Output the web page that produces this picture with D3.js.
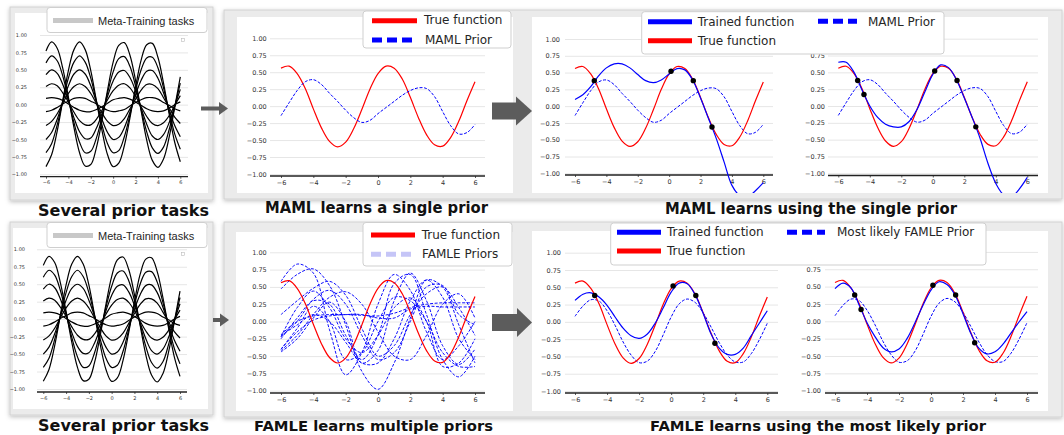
<!DOCTYPE html>
<html><head><meta charset="utf-8">
<script src="https://cdn.jsdelivr.net/npm/d3@7"></script>
<style>body{margin:0;background:#fff;}svg{display:block;}</style>
</head><body>
<svg id="c" width="1064" height="435"></svg>
<script>
// ---------------- DATA ----------------
const xFine = [-6,-5.5,-5,-4.5,-4,-3.5,-3,-2.5,-2,-1.5,-1,-0.5,0,0.5,1,1.5,2,2.5,3,3.5,4,4.5,5,5.5,6];
const xCoarse = [-6,-5,-4,-3,-2,-1,0,1,2,3,4,5,6];

const yTickValues = [-1,-0.75,-0.5,-0.25,0,0.25,0.5,0.75,1];
const yTickLabels = ["−1.00","−0.75","−0.50","−0.25","0.00","0.25","0.50","0.75","1.00"];
const xTickValues = [-6,-4,-2,0,2,4,6];
const xTickLabels = ["−6","−4","−2","0","2","4","6"];

// meta-training sine tasks
const task1 = [0.77,0.90,0.81,0.52,0.11,-0.33,-0.69,-0.88,-0.86,-0.62,-0.23,0.21,0.61,0.85,0.89,0.71,0.35,-0.09,-0.51,-0.80,-0.90,-0.78,-0.47,-0.04,0.40];
const task2 = [0.60,0.70,0.63,0.41,0.08,-0.26,-0.54,-0.69,-0.67,-0.48,-0.18,0.17,0.47,0.66,0.69,0.55,0.27,-0.07,-0.39,-0.62,-0.70,-0.61,-0.36,-0.03,0.31];
const task3 = [0.43,0.50,0.45,0.29,0.06,-0.19,-0.39,-0.49,-0.48,-0.34,-0.13,0.12,0.34,0.47,0.49,0.39,0.20,-0.05,-0.28,-0.45,-0.50,-0.43,-0.26,-0.02,0.22];
const task4 = [0.26,0.30,0.27,0.17,0.04,-0.11,-0.23,-0.29,-0.29,-0.21,-0.08,0.07,0.20,0.28,0.30,0.24,0.12,-0.03,-0.17,-0.27,-0.30,-0.26,-0.16,-0.01,0.13];
const task5 = [0.09,0.10,0.09,0.06,0.01,-0.04,-0.08,-0.10,-0.10,-0.07,-0.03,0.02,0.07,0.09,0.10,0.08,0.04,-0.01,-0.06,-0.09,-0.10,-0.09,-0.05,0.00,0.04];
const task6 = [-0.89,-0.72,-0.38,0.06,0.49,0.79,0.90,0.79,0.49,0.06,-0.37,-0.72,-0.89,-0.84,-0.59,-0.19,0.25,0.64,0.86,0.88,0.68,0.31,-0.13,-0.54,-0.82];
const task7 = [-0.69,-0.56,-0.29,0.05,0.38,0.61,0.70,0.61,0.38,0.05,-0.29,-0.56,-0.69,-0.66,-0.46,-0.15,0.20,0.50,0.67,0.68,0.53,0.24,-0.10,-0.42,-0.64];
const task8 = [-0.50,-0.40,-0.21,0.04,0.27,0.44,0.50,0.44,0.27,0.04,-0.21,-0.40,-0.50,-0.47,-0.33,-0.11,0.14,0.35,0.48,0.49,0.38,0.17,-0.07,-0.30,-0.46];
const task9 = [-0.30,-0.24,-0.13,0.02,0.16,0.26,0.30,0.26,0.16,0.02,-0.12,-0.24,-0.30,-0.28,-0.20,-0.06,0.08,0.21,0.29,0.29,0.23,0.10,-0.04,-0.18,-0.27];
const task10 = [-0.10,-0.08,-0.04,0.01,0.05,0.09,0.10,0.09,0.05,0.01,-0.04,-0.08,-0.10,-0.09,-0.07,-0.02,0.03,0.07,0.10,0.10,0.08,0.03,-0.01,-0.06,-0.09];

const trueFunction = [0.56,0.59,0.48,0.26,-0.04,-0.32,-0.52,-0.60,-0.53,-0.33,-0.05,0.25,0.48,0.59,0.56,0.40,0.13,-0.17,-0.42,-0.57,-0.59,-0.46,-0.22,0.08,0.36];
const mamlPrior = [-0.14,0.05,0.23,0.36,0.39,0.32,0.19,0.07,-0.06,-0.17,-0.24,-0.21,-0.11,-0.02,0.07,0.16,0.23,0.27,0.26,0.14,-0.08,-0.29,-0.41,-0.39,-0.27];
const mamlTrained4 = [0.10,0.17,0.29,0.45,0.57,0.63,0.63,0.57,0.47,0.38,0.35,0.39,0.48,0.56,0.54,0.39,0.12,-0.18,-0.48,-0.83,-1.18,-1.33,-1.35,-1.26,-1.14];
const mamlTrained5 = [0.65,0.65,0.50,0.24,0.00,-0.17,-0.27,-0.31,-0.31,-0.23,-0.05,0.21,0.47,0.61,0.57,0.39,0.12,-0.17,-0.48,-0.85,-1.15,-1.32,-1.35,-1.23,-1.06];
const famleBestPrior = [0.08,0.23,0.32,0.30,0.16,-0.05,-0.29,-0.48,-0.59,-0.57,-0.43,-0.19,0.07,0.26,0.33,0.28,0.13,-0.08,-0.30,-0.48,-0.58,-0.58,-0.46,-0.26,-0.02];
const famleTrained4 = [0.31,0.40,0.42,0.36,0.24,0.07,-0.09,-0.20,-0.24,-0.18,-0.02,0.20,0.43,0.56,0.55,0.39,0.12,-0.18,-0.38,-0.47,-0.47,-0.38,-0.20,-0.02,0.16];
const famleTrained5 = [0.47,0.55,0.48,0.24,-0.02,-0.22,-0.38,-0.44,-0.40,-0.25,-0.02,0.23,0.45,0.57,0.53,0.38,0.11,-0.18,-0.39,-0.47,-0.44,-0.33,-0.17,-0.01,0.14];

// FAMLE priors (sampled every 1 unit)
const famlePrior1 = [0.58,0.83,0.70,-0.12,-0.77,-0.45,0.25,0.68,0.45,-0.15,-0.55,-0.35,0.00];
const famlePrior2 = [0.47,0.68,0.76,0.52,-0.05,-0.72,-0.98,-0.60,0.05,0.60,0.50,-0.05,-0.60];
const famlePrior3 = [0.10,0.30,0.48,0.58,0.38,-0.10,-0.50,-0.35,0.10,0.40,0.50,0.20,-0.20];
const famlePrior4 = [-0.42,-0.20,0.10,0.35,0.43,0.25,-0.15,-0.50,-0.55,-0.20,0.25,0.40,0.05];
const famlePrior5 = [-0.22,0.20,0.44,0.20,-0.25,-0.45,-0.20,0.20,0.34,0.00,-0.65,-0.60,-0.25];
const famlePrior6 = [-0.25,0.05,0.30,0.25,-0.20,-0.55,-0.20,0.55,0.68,0.10,-0.55,-0.80,-0.50];
const famlePrior7 = [-0.19,0.00,0.08,0.10,0.10,0.09,0.08,0.12,0.20,0.25,0.27,0.27,0.27];
const famlePrior8 = [-0.40,-0.15,0.02,0.08,0.10,0.10,0.05,0.05,0.18,0.22,0.21,0.21,0.21];
const famlePrior9 = [-0.44,-0.25,0.05,0.28,0.00,-0.60,-0.42,0.30,0.70,0.30,-0.35,-0.62,-0.40];
const famlePrior10 = [-0.40,-0.10,0.22,0.00,-0.55,-0.45,0.00,0.35,0.30,0.00,-0.45,-0.65,-0.65];
const famlePrior11 = [-0.22,0.00,0.32,0.45,0.25,-0.20,-0.55,-0.45,0.00,0.50,0.52,0.10,-0.05];
const famlePrior12 = [-0.20,-0.05,0.10,0.00,-0.30,-0.60,-0.60,-0.25,0.30,0.60,0.35,-0.25,-0.55];

// observed samples
const obsX4 = [-4.77,0.12,1.54,2.73];
const obsY4 = [0.38,0.52,0.38,-0.31];
const obsX5 = [-4.77,-4.37,0.12,1.54,2.73];
const obsY5 = [0.38,0.17,0.52,0.38,-0.31];

// ---------------- DRAWING ----------------
const svg = d3.select('#c');
const FONT = '"DejaVu Sans", sans-serif';
const defs = svg.append('defs');
defs.append('filter').attr('id','sh').attr('x','-5%').attr('y','-5%').attr('width','110%').attr('height','115%')
  .append('feDropShadow').attr('dx',0).attr('dy',1.5).attr('stdDeviation',2).attr('flood-color','#000').attr('flood-opacity',0.25);

function frame(x,y,w,h){
  svg.append('rect').attr('x',x).attr('y',y).attr('width',w).attr('height',h)
    .attr('fill','#ebebeb').attr('stroke','#d2d2d2').attr('stroke-width',1).attr('filter','url(#sh)');
}
function white(x,y,w,h){
  svg.append('rect').attr('x',x).attr('y',y).attr('width',w).attr('height',h).attr('fill','#fff');
}
frame(10,7,203,193); white(15,13,193,180);
frame(224,10,838,189); white(237,17,276,176); white(532,17,516,176);
frame(10,222,203,193); white(13,228,195,181);
frame(224,222,838,195); white(236,232,277,179); white(532,231,516,180);

let clipId = 0;
function panel(cfg, series, pts){
  const x = d3.scaleLinear().domain([-6,6]).range([cfg.x0,cfg.x1]);
  const y = d3.scaleLinear().domain([-1,1]).range([cfg.yb,cfg.yt]);
  const g = svg.append('g');
  const yAxis = d3.axisLeft(y).tickValues(yTickValues)
    .tickFormat(d => yTickLabels[yTickValues.indexOf(d)])
    .tickSizeInner(-(cfg.gr-cfg.gl)).tickSizeOuter(0).tickPadding(cfg.pad);
  g.append('g').attr('transform',`translate(${cfg.gl},0)`).call(yAxis).call(s=>{
    s.select('.domain').remove();
    s.selectAll('line').attr('stroke','#e6e6e6').attr('stroke-width',1);
    s.selectAll('text').attr('font-size',cfg.fs).attr('font-family',FONT).attr('fill','#333');
  });
  const xAxis = d3.axisBottom(x).tickValues(xTickValues)
    .tickFormat(d => xTickLabels[xTickValues.indexOf(d)]).tickSizeInner(2).tickSizeOuter(0).tickPadding(cfg.xpad);
  g.append('g').attr('transform',`translate(0,${cfg.ax})`).call(xAxis).call(s=>{
    s.select('.domain').remove();
    s.selectAll('line').attr('stroke','#333').attr('stroke-width',0.8);
    s.selectAll('text').attr('font-size',cfg.fs).attr('font-family',FONT).attr('fill','#333');
  });
  g.append('line').attr('x1',cfg.gl).attr('x2',cfg.gr).attr('y1',cfg.ax).attr('y2',cfg.ax)
    .attr('stroke','#222').attr('stroke-width',1.3);
  const id = 'clip'+(clipId++);
  defs.append('clipPath').attr('id',id).append('rect')
    .attr('x',cfg.clip[0]).attr('y',cfg.clip[1]).attr('width',cfg.clip[2]).attr('height',cfg.clip[3]);
  const cg = g.append('g').attr('clip-path',`url(#${id})`);
  series.forEach(s=>{
    const line = d3.line().x((d,i)=>x(s.xs[i])).y(d=>y(d)).curve(d3.curveCatmullRom.alpha(0.5));
    cg.append('path').attr('d',line(s.ys)).attr('fill','none').attr('stroke',s.color)
      .attr('stroke-width',s.w).attr('stroke-dasharray',s.dash||null).attr('stroke-opacity',s.op||1);
  });
  if(pts){
    cg.selectAll(null).data(pts.xs).enter().append('circle')
      .attr('cx',d=>x(d)).attr('cy',(d,i)=>y(pts.ys[i])).attr('r',2.7).attr('fill','#000');
  }
}

const tasks = [task1,task2,task3,task4,task5,task6,task7,task8,task9,task10]
  .map(t=>({xs:xFine,ys:t,color:'#000',w:1.2}));
const famlePriors = [famlePrior1,famlePrior2,famlePrior3,famlePrior4,famlePrior5,famlePrior6,famlePrior7,famlePrior8,famlePrior9,famlePrior10,famlePrior11,famlePrior12]
  .map(t=>({xs:xCoarse,ys:t,color:'#0000ff',w:1,dash:'3,1.6',op:0.95}));
const sTrue = {xs:xFine,ys:trueFunction,color:'#ff0000',w:1.2};
const sMamlPrior = {xs:xFine,ys:mamlPrior,color:'#0000ff',w:1,dash:'3,1.6'};
const sFamlePrior = {xs:xFine,ys:famleBestPrior,color:'#0000ff',w:1,dash:'3,1.6'};

// panel A / E (tasks)
panel({x0:46,x1:180.3,yt:35,yb:174.3,gl:40,gr:188,ax:176.7,fs:5,pad:13,xpad:2,clip:[15,13,193,180]}, tasks);
panel({x0:43.3,x1:180,yt:249.3,yb:389,gl:37,gr:187,ax:392,fs:5,pad:12,xpad:2,clip:[13,228,195,181]}, tasks);
// B
panel({x0:281,x1:475,yt:38.3,yb:174,gl:270,gr:485,ax:176,fs:6.5,pad:3.3,xpad:1.9,clip:[237,17,276,176]},
  [sTrue, sMamlPrior]);
// C
panel({x0:575,x1:763.3,yt:39,yb:173.3,gl:565,gr:773,ax:175,fs:6.5,pad:5,xpad:1.9,clip:[532,17,516,176]},
  [sMamlPrior, sTrue, {xs:xFine,ys:mamlTrained4,color:'#0000ff',w:1.2}], {xs:obsX4,ys:obsY4});
// D
panel({x0:838.3,x1:1027.3,yt:38.7,yb:173.3,gl:828,gr:1038,ax:175.5,fs:6.5,pad:3,xpad:1.9,clip:[532,17,516,176]},
  [sMamlPrior, sTrue, {xs:xFine,ys:mamlTrained5,color:'#0000ff',w:1.2}], {xs:obsX5,ys:obsY5});
// F
panel({x0:281,x1:475,yt:252.3,yb:390.7,gl:270,gr:485,ax:393,fs:6.5,pad:3.3,xpad:1.9,clip:[236,232,277,179]},
  famlePriors.concat([sTrue]));
// G
panel({x0:575,x1:767.3,yt:252.7,yb:391,gl:565,gr:778,ax:393,fs:6.5,pad:4,xpad:1.9,clip:[532,231,516,180]},
  [sFamlePrior, sTrue, {xs:xFine,ys:famleTrained4,color:'#0000ff',w:1.2}], {xs:obsX4,ys:obsY4});
// H
panel({x0:835,x1:1027,yt:251.9,yb:390.7,gl:825,gr:1038,ax:393,fs:6.5,pad:4,xpad:1.9,clip:[532,231,516,180]},
  [sFamlePrior, sTrue, {xs:xFine,ys:famleTrained5,color:'#0000ff',w:1.2}], {xs:obsX5,ys:obsY5});

// tiny empty legend squares in task panels
[[181.5,38.5],[181.5,252.5]].forEach(p=>svg.append('rect').attr('x',p[0]).attr('y',p[1]).attr('width',3).attr('height',3)
  .attr('fill','#fff').attr('stroke','#bbb').attr('stroke-width',0.6));

// ---------------- LEGENDS ----------------
function legend(box, entries, fontFam, fs){
  svg.append('rect').attr('x',box[0]).attr('y',box[1]).attr('width',box[2]).attr('height',box[3])
    .attr('rx',3).attr('fill','#fff').attr('stroke','#cfcfcf').attr('stroke-width',1);
  entries.forEach(e=>{
    svg.append('line').attr('x1',e.s[0]).attr('x2',e.s[1]).attr('y1',e.s[2]).attr('y2',e.s[2])
      .attr('stroke',e.c).attr('stroke-width',5).attr('stroke-dasharray',e.d||null);
    svg.append('text').attr('x',e.t[0]).attr('y',e.t[1]).text(e.label)
      .attr('font-family',fontFam).attr('font-size',fs).attr('fill','#262626');
  });
}
const legTasks = 'Meta-Training tasks';
legend([47,7.5,160,25],[{s:[53,93,20.5],c:'#c8c8c8',t:[98,24.5],label:legTasks}],'"Liberation Sans", Arial, sans-serif',11);
legend([47,222.5,160,25],[{s:[53,93,235.5],c:'#c8c8c8',t:[98,239.5],label:legTasks}],'"Liberation Sans", Arial, sans-serif',11);
legend([363,11,148,37],[
  {s:[372,417,20.7],c:'#ff0000',t:[424,24],label:'True function'},
  {s:[372,417,40],c:'#0000ff',d:'10,5',t:[425,44],label:'MAML Prior'}],FONT,12);
legend([641.7,11.7,302.3,42.3],[
  {s:[648,692,21.7],c:'#0000ff',t:[697.7,25.5],label:'Trained function'},
  {s:[648,692,40.7],c:'#ff0000',t:[697.7,44.5],label:'True function'},
  {s:[818,857,21.3],c:'#0000ff',d:'10,5',t:[868,25.5],label:'MAML Prior'}],FONT,12);
legend([363,222.5,149,43.5],[
  {s:[371,415,235],c:'#ff0000',t:[421.7,238.7],label:'True function'},
  {s:[371,415,254.3],c:'#c5c5f7',d:'10,5',t:[422,258.3],label:'FAMLE Priors'}],FONT,12);
legend([610.7,223,375.3,42],[
  {s:[617,661,232.3],c:'#0000ff',t:[667,236.3],label:'Trained function'},
  {s:[617,661,251],c:'#ff0000',t:[667,255],label:'True function'},
  {s:[787,825,232.3],c:'#0000ff',d:'10,5',t:[837,236.3],label:'Most likely FAMLE Prior'}],FONT,12);

// ---------------- ARROWS ----------------
function arrow(x0,x1,xt,yc,th,hh){
  const c = '#5c5c5c';
  svg.append('rect').attr('x',x0).attr('y',yc-th/2).attr('width',x1-x0).attr('height',th).attr('fill',c);
  svg.append('path').attr('d',`M${x1-1},${yc-hh/2}L${xt},${yc}L${x1-1},${yc+hh/2}Z`).attr('fill',c);
}
arrow(201,220,228,108.5,4,13);
arrow(213,221,229,320,4,13);
arrow(492,517,532,111,17,29);
arrow(492,518,532,322.5,17,29);

// ---------------- TITLES ----------------
function title(txt,x0,x1,base,fs){
  svg.append('text').attr('x',x0).attr('y',base).text(txt)
    .attr('font-family','"DejaVu Sans", sans-serif').attr('font-weight','bold').attr('font-size',fs)
    .attr('fill','#111').attr('textLength',x1-x0).attr('lengthAdjust','spacingAndGlyphs');
}
title('Several prior tasks',38,209,215.7,16);
title('MAML learns a single prior',265,488,212.7,15);
title('MAML learns using the single prior',665,957,214,15);
title('Several prior tasks',38,209,430.5,15.5);
title('FAMLE learns multiple priors',254,493,430.5,14.5);
title('FAMLE learns using the most likely prior',650,986,430.5,14.5);
</script>
</body></html>
